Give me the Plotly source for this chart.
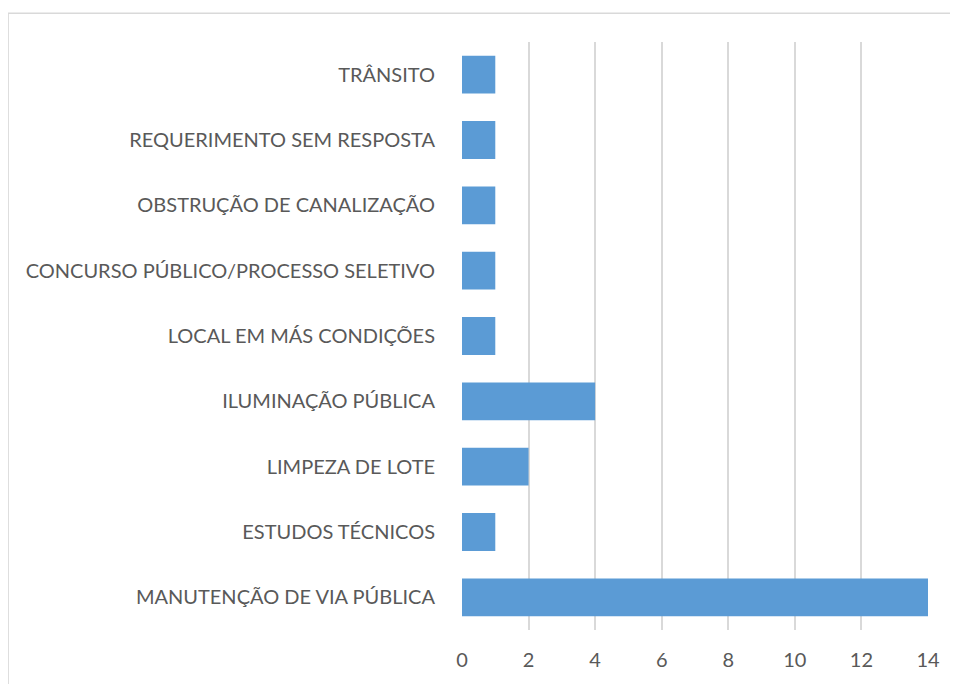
import plotly.graph_objects as go

categorias = [
    'MANUTENÇÃO DE VIA PÚBLICA',
    'ESTUDOS TÉCNICOS',
    'LIMPEZA DE LOTE',
    'ILUMINAÇÃO PÚBLICA',
    'LOCAL EM MÁS CONDIÇÕES',
    'CONCURSO PÚBLICO/PROCESSO SELETIVO',
    'OBSTRUÇÃO DE CANALIZAÇÃO',
    'REQUERIMENTO SEM RESPOSTA',
    'TRÂNSITO',
]
quantidades = [14, 1, 2, 4, 1, 1, 1, 1, 1]
ticks_x = [0, 2, 4, 6, 8, 10, 12, 14]

fig = go.Figure(data=[go.Bar(
    x=quantidades,
    y=categorias,
    orientation='h',
    width=0.58,
    marker=dict(color='#5B9BD5', line=dict(width=0)),
)])

# Moldura do gráfico (cortada à direita e embaixo, como na imagem)
fig.add_shape(type='rect', xref='paper', yref='paper',
              x0=-0.974, x1=1.1, y0=-0.15, y1=1.049,
              line=dict(color='#D9D9D9', width=1.5), layer='below')

fig.update_layout(
    width=950, height=676, autosize=False,
    margin=dict(l=454, r=30, t=34, b=54),
    plot_bgcolor='white', paper_bgcolor='white',
    font=dict(family='Lato', size=20, color='#595959'),
    showlegend=False,
)
fig.update_xaxes(
    range=[0, 14], tickvals=ticks_x, showgrid=True, gridcolor='#D9D9D9', gridwidth=1.5,
    zeroline=False, showline=False, ticks='outside', tickcolor='rgba(0,0,0,0)', ticklen=12,
    automargin=False, fixedrange=True,
)
fig.update_yaxes(
    range=[-0.5, 8.5], showgrid=False, zeroline=False, showline=False,
    ticks='outside', tickcolor='rgba(0,0,0,0)', ticklen=22, automargin=False,
    fixedrange=True,
)

fig.write_html("out.html")
